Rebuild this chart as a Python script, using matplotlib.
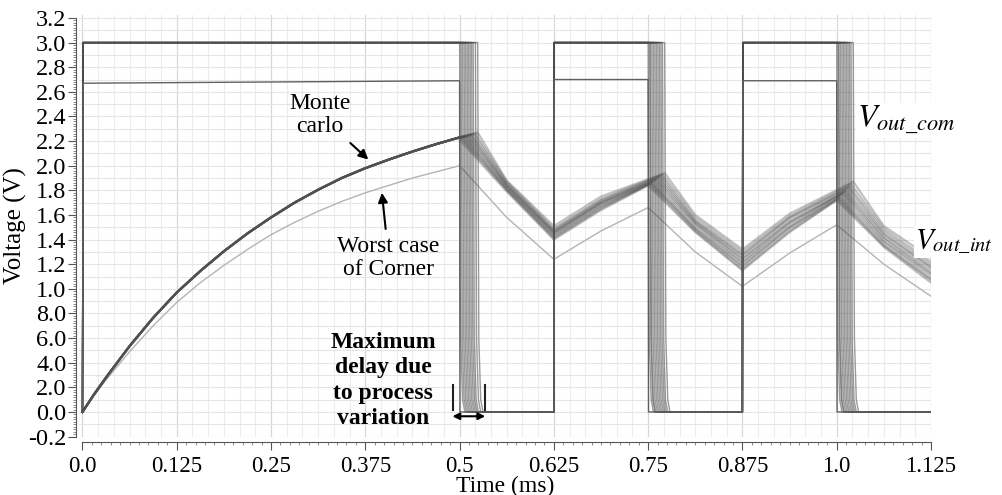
import matplotlib
matplotlib.use("Agg")
import matplotlib.pyplot as plt
import numpy as np

plt.rcParams["font.family"] = ["Liberation Serif", "DejaVu Serif"]
plt.rcParams["mathtext.fontset"] = "stix"

# axis ticks
x_ticks = [0.0, 0.125, 0.25, 0.375, 0.5, 0.625, 0.75, 0.875, 1.0, 1.125]
x_labels = ["0.0", "0.125", "0.25", "0.375", "0.5", "0.625", "0.75", "0.875", "1.0", "1.125"]
y_ticks = [-0.2, 0.0, 0.2, 0.4, 0.6, 0.8, 1.0, 1.2, 1.4, 1.6, 1.8, 2.0, 2.2, 2.4, 2.6, 2.8, 3.0, 3.2]
y_labels = ["-0.2", "0.0", "2.0", "4.0", "6.0", "8.0", "1.0", "1.2", "1.4", "1.6",
            "1.8", "2.0", "2.2", "2.4", "2.6", "2.8", "3.0", "3.2"]

# V_out_int charging phase (0 -> 0.5 ms), shared by Monte Carlo runs
t_charge = [0.0, 0.015, 0.03125, 0.0625, 0.09375, 0.125, 0.15625, 0.1875, 0.21875, 0.25,
            0.28125, 0.3125, 0.34375, 0.375, 0.40625, 0.4375, 0.46875, 0.5]
v_charge_mc = [0.0, 0.14, 0.28, 0.535, 0.765, 0.97, 1.145, 1.305, 1.45, 1.58,
               1.70, 1.805, 1.90, 1.98, 2.05, 2.115, 2.175, 2.23]
v_charge_corner = [0.0, 0.13, 0.26, 0.49, 0.70, 0.89, 1.05, 1.19, 1.32, 1.44,
                   1.54, 1.63, 1.71, 1.78, 1.84, 1.90, 1.95, 2.00]

# worst case corner after 0.5 ms
t_corner_after = [0.5625, 0.625, 0.6875, 0.75, 0.8125, 0.875, 0.9375, 1.0, 1.0625, 1.125]
v_corner_after = [1.58, 1.24, 1.47, 1.66, 1.30, 1.02, 1.29, 1.52, 1.20, 0.94]

# worst case corner V_out_com (levels at ~2.68 V)
t_corner_com = [0.0, 0.001, 0.5, 0.5005, 0.625, 0.6255, 0.75, 0.7505, 0.875, 0.8755, 1.0, 1.0005, 1.125]
v_corner_com = [0.0, 2.67, 2.69, 0.0, 0.0, 2.70, 2.70, 0.0, 0.0, 2.69, 2.69, 0.0, 0.0]

# Monte Carlo falling edge times (ms) per run
mc_fall1 = [0.500, 0.502, 0.504, 0.506, 0.508, 0.510, 0.512, 0.514, 0.516, 0.518, 0.521, 0.524]
mc_fall2 = [0.750, 0.752, 0.753, 0.755, 0.757, 0.759, 0.761, 0.763, 0.765, 0.767, 0.769, 0.772]
mc_fall3 = [1.000, 1.002, 1.003, 1.005, 1.007, 1.009, 1.011, 1.013, 1.015, 1.017, 1.019, 1.022]
rise_times = [0.0, 0.625, 0.875]
v_high = 3.0

# Monte Carlo V_out_int after the charging phase:
# peak1, 0.5625, 0.625, 0.6875, peak2, 0.8125, 0.875, 0.9375, peak3, 1.0625, 1.125
mc_int = [
    [2.21, 1.79, 1.40, 1.64, 1.84, 1.46, 1.15, 1.46, 1.72, 1.34, 1.05],
    [2.22, 1.80, 1.41, 1.65, 1.85, 1.47, 1.16, 1.47, 1.73, 1.35, 1.07],
    [2.22, 1.81, 1.42, 1.66, 1.86, 1.48, 1.18, 1.49, 1.74, 1.36, 1.08],
    [2.23, 1.81, 1.43, 1.67, 1.86, 1.49, 1.19, 1.50, 1.75, 1.38, 1.10],
    [2.23, 1.82, 1.44, 1.68, 1.87, 1.50, 1.21, 1.51, 1.77, 1.39, 1.12],
    [2.24, 1.83, 1.45, 1.69, 1.88, 1.52, 1.22, 1.53, 1.78, 1.41, 1.13],
    [2.24, 1.84, 1.46, 1.70, 1.89, 1.53, 1.24, 1.54, 1.79, 1.42, 1.15],
    [2.25, 1.84, 1.46, 1.70, 1.90, 1.54, 1.25, 1.55, 1.80, 1.44, 1.17],
    [2.25, 1.85, 1.47, 1.71, 1.91, 1.55, 1.27, 1.57, 1.82, 1.45, 1.18],
    [2.26, 1.86, 1.48, 1.72, 1.92, 1.56, 1.28, 1.58, 1.83, 1.47, 1.20],
    [2.26, 1.87, 1.49, 1.73, 1.93, 1.58, 1.30, 1.59, 1.85, 1.49, 1.22],
    [2.27, 1.88, 1.51, 1.75, 1.94, 1.60, 1.32, 1.61, 1.87, 1.51, 1.25],
]

fig = plt.figure(figsize=(10.02, 4.95), dpi=100)
ax = fig.add_axes([0.0793, 0.118, 0.8498, 0.8507])
ax.set_xlim(-0.004, 1.125)
ax.set_ylim(-0.2, 3.22)

# background grid (Virtuoso style)
for gx in np.arange(0, 1.126, 0.125 / 6):
    ax.axvline(gx, color="#ececec", lw=0.8, zorder=0)
for gx in x_ticks:
    ax.axvline(gx, color="#d6d6d6", lw=0.8, zorder=0)
for gy in np.arange(-0.2, 3.21, 0.1):
    ax.axhline(gy, color="#e6e6e6", lw=0.8, zorder=0)

# falling edge shape
edge_dt = [0.0, 0.0015, 0.004, 0.007]
edge_v = [3.0, 0.6, 0.1, 0.0]

# Monte Carlo V_out_com
for f1, f2, f3 in zip(mc_fall1, mc_fall2, mc_fall3):
    t = [rise_times[0], rise_times[0] + 0.001]
    v = [0.0, v_high]
    for tr, tf in zip([None, rise_times[1], rise_times[2]], [f1, f2, f3]):
        if tr is not None:
            t += [tr, tr + 0.0005]
            v += [0.0, v_high]
        t += [tf + d for d in edge_dt]
        v += edge_v
    t.append(1.125)
    v.append(0.0)
    ax.plot(t, v, color="#4a4a4a", lw=1.0, alpha=0.55, zorder=3)

# worst case corner V_out_com
ax.plot(t_corner_com, v_corner_com, color="#606060", lw=1.0, zorder=3)

# Monte Carlo V_out_int
for f1, f2, f3, vals in zip(mc_fall1, mc_fall2, mc_fall3, mc_int):
    t = t_charge + [f1, 0.5625, 0.625, 0.6875, f2, 0.8125, 0.875, 0.9375, f3, 1.0625, 1.125]
    v = v_charge_mc + vals
    ax.plot(t, v, color="#505050", lw=1.6, alpha=0.35, zorder=4)

# worst case corner V_out_int
ax.plot(t_charge + t_corner_after, v_charge_corner + v_corner_after,
        color="#b4b4b4", lw=1.0, zorder=2)

# axes styling
for s in ["top", "right"]:
    ax.spines[s].set_visible(False)
ax.spines["left"].set_position(("outward", 2.5))
ax.spines["bottom"].set_position(("outward", 4))
ax.spines["left"].set_bounds(-0.2, 3.2)
ax.spines["bottom"].set_bounds(0, 1.125)
ax.spines["left"].set_color("#555555")
ax.spines["bottom"].set_color("#555555")

ax.set_xticks(x_ticks)
ax.set_xticklabels(x_labels)
ax.set_xticks(np.arange(0, 1.126, 0.0125), minor=True)
ax.set_yticks(y_ticks)
ax.set_yticklabels(y_labels)
ax.set_yticks(np.arange(-0.2, 3.201, 0.02), minor=True)
ax.tick_params(axis="both", which="major", length=6, color="#555555", labelsize=16.5, pad=2)
ax.tick_params(axis="y", which="major", labelsize=17.5, pad=1)
ax.tick_params(axis="both", which="minor", length=2.5, color="#777777")
ax.tick_params(axis="x", which="major", pad=4)

ax.set_xlabel("Time (ms)", fontsize=17, labelpad=-1)
ax.set_ylabel("Voltage (V)", fontsize=18, labelpad=1)

# annotations
ax.annotate("Monte\ncarlo", xy=(0.379, 2.05), xytext=(0.315, 2.41),
            ha="center", va="center", fontsize=17, linespacing=1.15,
            arrowprops=dict(arrowstyle="-|>", color="black", lw=1.5, shrinkA=3, shrinkB=0,
                            mutation_scale=14))
ax.annotate("Worst case\nof Corner", xy=(0.397, 1.78), xytext=(0.406, 1.25),
            ha="center", va="center", fontsize=17, linespacing=1.15,
            arrowprops=dict(arrowstyle="-|>", color="black", lw=1.5, shrinkA=3, shrinkB=0,
                            mutation_scale=14))
ax.text(0.399, 0.255, "Maximum\ndelay due\nto process\nvariation", ha="center", va="center",
        fontsize=17, fontweight="bold", linespacing=1.28)

ax.plot([0.491, 0.491], [0.02, 0.22], color="#222222", lw=1.5, zorder=6)
ax.plot([0.5335, 0.5335], [0.02, 0.22], color="#222222", lw=1.5, zorder=6)
ax.annotate("", xy=(0.4905, -0.035), xytext=(0.534, -0.035),
            arrowprops=dict(arrowstyle="<|-|>", color="black", lw=1.5, shrinkA=0, shrinkB=0,
                            mutation_scale=10))

ax.text(1.027, 2.37, r"$V_{out\_com}$", fontsize=23, ha="left", va="center",
        bbox=dict(facecolor="white", edgecolor="none", pad=1), zorder=7)
ax.text(1.104, 1.38, r"$V_{out\_int}$", fontsize=21, ha="left", va="center", clip_on=False,
        bbox=dict(facecolor="white", edgecolor="none", pad=1), zorder=7)

fig.savefig("out.png", dpi=100)
